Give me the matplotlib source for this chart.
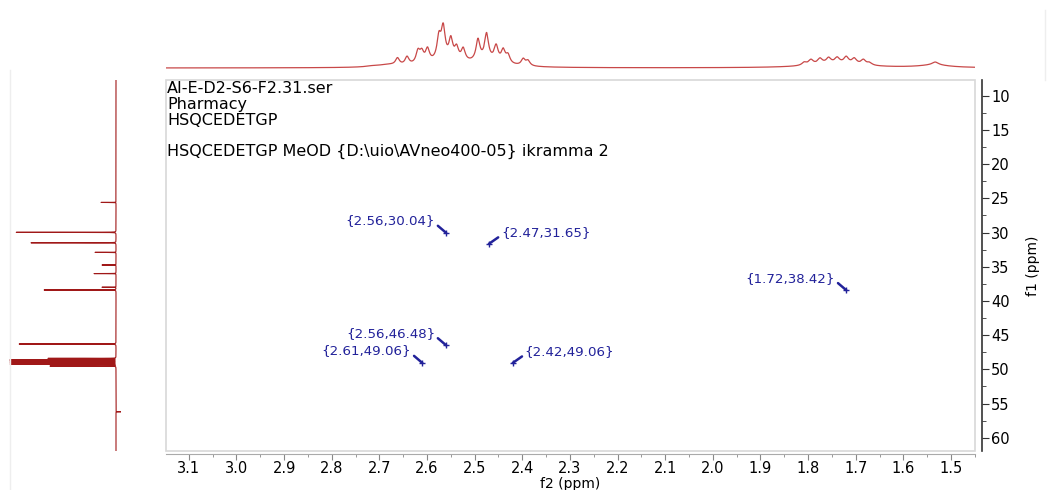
import numpy as np
import matplotlib
matplotlib.use("Agg")
import matplotlib.pyplot as plt
from matplotlib.ticker import MultipleLocator, FormatStrFormatter
from matplotlib.patches import Rectangle
from matplotlib.lines import Line2D

# cross peaks picked in the HSQC (f2 = 1H, f1 = 13C)
peak_f2 = [2.56, 2.47, 1.72, 2.56, 2.61, 2.42]
peak_f1 = [30.04, 31.65, 38.42, 46.48, 49.06, 49.06]
label_left = [True, False, True, True, True, False]

header_lines = ["AI-E-D2-S6-F2.31.ser", "Pharmacy", "HSQCEDETGP", "",
                "HSQCEDETGP MeOD {D:\\uio\\AVneo400-05} ikramma 2"]

# 1H projection (top): peak position, height, half width (ppm)
h_ppm = [2.71, 2.68, 2.662, 2.642, 2.619, 2.611, 2.599, 2.575, 2.566, 2.550,
         2.538, 2.524, 2.493, 2.475, 2.455, 2.440, 2.430, 2.398, 2.388,
         2.56, 2.47,
         1.808, 1.794, 1.775, 1.757, 1.739, 1.720, 1.703, 1.684, 1.671, 1.74,
         1.533, 1.535]
h_height = [1.2, 1.8, 7, 8, 12, 10, 13, 22, 31, 20,
            12, 12, 21, 26, 15, 12, 8, 6.5, 5,
            5, 5,
            3, 5, 5.5, 5.5, 5.5, 6.5, 5.5, 5, 2.5, 4,
            3, 2.5]
h_width = [0.02, 0.02, 0.005, 0.005, 0.005, 0.005, 0.005, 0.005, 0.005, 0.005,
           0.005, 0.005, 0.005, 0.005, 0.005, 0.005, 0.005, 0.005, 0.005,
           0.05, 0.04,
           0.006, 0.006, 0.006, 0.006, 0.006, 0.006, 0.006, 0.006, 0.006, 0.07,
           0.008, 0.04]

# 13C projection (left)
c_ppm = [25.6, 29.97, 31.5, 32.9, 34.75, 36.0, 38.0, 38.4, 46.3,
         48.4, 48.64, 48.93, 49.22, 49.52, 56.2]
c_height = [15, 100, 85, 21, 14, 22, 14, 72, 97, 68, 106, 106, 106, 66, -7]

f2_lim = (3.148, 1.4496)
f1_lim = (61.94, 7.70)
navy = "#22229a"

plt.rcParams['font.family'] = ['DejaVu Sans']


def lorentz(x, pos, height, width):
    y = np.zeros_like(x)
    for p, h, w in zip(pos, height, width):
        y += h / (1 + ((x - p) / w) ** 2)
    return y


fig = plt.figure(figsize=(10.51, 4.9), dpi=100)
W, H = 1051.0, 490.0
ax = fig.add_axes([166 / W, 39 / H, 809 / W, 371 / H])
ax_top = fig.add_axes([166 / W, 416 / H, 809 / W, 66 / H])
ax_left = fig.add_axes([5 / W, 39 / H, 116 / W, 371 / H])

# main 2D frame
ax.set_xlim(f2_lim)
ax.set_ylim(f1_lim)
for s in ["top", "left"]:
    ax.spines[s].set_visible(False)
ax.spines["right"].set_position(("outward", 5))
ax.spines["right"].set_color("#333333")
ax.spines["right"].set_linewidth(1.2)
ax.spines["bottom"].set_position(("outward", 2))
ax.spines["bottom"].set_color("#aaaaaa")
ax.add_patch(Rectangle((0, 0), 1, 1, transform=ax.transAxes, fill=False,
                       edgecolor="#d8d8d8", lw=1.2, clip_on=False))
ax.yaxis.tick_right()
ax.yaxis.set_label_position("right")
ax.xaxis.set_major_locator(MultipleLocator(0.1))
ax.xaxis.set_minor_locator(MultipleLocator(0.05))
ax.xaxis.set_major_formatter(FormatStrFormatter("%.1f"))
ax.yaxis.set_major_locator(MultipleLocator(5))
ax.yaxis.set_minor_locator(MultipleLocator(2.5))
ax.yaxis.set_major_formatter(FormatStrFormatter("%d"))
ax.tick_params(axis="x", which="major", length=4, color="#888888", labelsize=10.5, pad=1.5)
ax.tick_params(axis="x", which="minor", length=2, color="#888888")
ax.tick_params(axis="y", which="major", length=5, color="#333333", labelsize=10.5, pad=1.5)
ax.tick_params(axis="y", which="minor", length=3, color="#333333")
ax.set_xlabel("f2 (ppm)", fontsize=10, labelpad=0.5)
ax.set_ylabel("f1 (ppm)", fontsize=10, labelpad=12)

header_y = [-8.7, -24, -40, -56, -71.7]
for line, dy in zip(header_lines, header_y):
    ax.annotate(line, xy=(0, 1), xycoords="axes fraction", xytext=(1, dy),
                textcoords="offset pixels", ha="left", va="center", fontsize=11.5)

for x, y, left in zip(peak_f2, peak_f1, label_left):
    ax.plot(x, y, marker="+", ms=5, mew=1, color=navy)
    if left:
        off, ha, rel = (-11, 12), "right", (1, 0.3)
    else:
        off, ha, rel = (12, 11), "left", (0, 0.3)
    ax.annotate("{%.2f,%.2f}" % (x, y), xy=(x, y), xytext=off,
                textcoords="offset pixels", ha=ha, va="center", fontsize=9.6,
                color=navy,
                arrowprops=dict(arrowstyle="-", color=navy, lw=1.8,
                                shrinkA=0, shrinkB=0, relpos=rel))

# top 1H projection
xs = np.linspace(f2_lim[1], f2_lim[0], 6000)
ax_top.plot(xs, lorentz(xs, h_ppm, h_height, h_width), color="#c84848", lw=0.9)
ax_top.set_xlim(f2_lim)
ax_top.set_ylim(-6, 60)
ax_top.axis("off")

# left 13C projection
ys = np.linspace(f1_lim[1], f1_lim[0], 60000)
ax_left.plot(lorentz(ys, c_ppm, c_height, [0.008] * len(c_ppm)), ys,
             color="#a01818", lw=0.8)
ax_left.set_ylim(f1_lim)
ax_left.set_xlim(111, -5)
ax_left.axis("off")

# faint panel edges
fig.add_artist(Line2D([10 / W, 10 / W], [0, 1 - 70 / H], color="#eeeeee", lw=1))
fig.add_artist(Line2D([1045 / W, 1045 / W], [1 - 80 / H, 1 - 10 / H], color="#eeeeee", lw=1))

fig.savefig("out.png", dpi=100)
